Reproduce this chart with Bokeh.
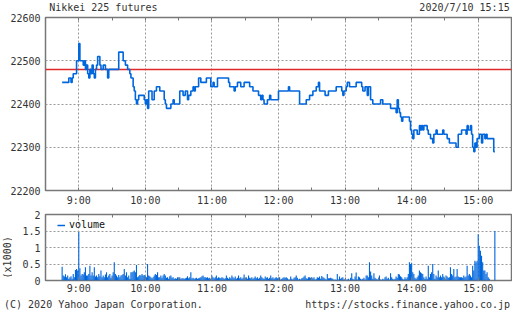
import math
from bokeh.plotting import figure
from bokeh.layouts import column, row
from bokeh.models import (Range1d, FixedTicker, LinearAxis, Grid,
                          Legend, LegendItem, Div)
from bokeh.core.properties import value
from bokeh.embed import file_html
from bokeh.resources import INLINE

# ---------------- data ----------------
# price change points: minutes since midnight -> price (step line)
price_time = [
    525, 531, 533, 534, 535, 538, 540, 541, 544, 545,
    546, 547, 548, 549, 550, 551, 552, 553, 554, 555,
    556, 557, 559, 560, 562, 564, 566, 567, 576, 580,
    582, 584, 586, 587, 589, 590, 591, 592, 593, 594,
    599, 600, 601, 602, 603, 606, 608, 610, 613, 617,
    618, 619, 623, 625, 626, 631, 634, 636, 638, 639,
    641, 643, 644, 645, 648, 650, 655, 659, 661, 662,
    665, 675, 676, 680, 681, 683, 686, 689, 694, 697,
    702, 704, 705, 706, 707, 710, 712, 713, 720, 729,
    730, 739, 745, 748, 751, 754, 756, 757, 762, 765,
    772, 777, 778, 779, 781, 782, 784, 790, 795, 796,
    798, 800, 801, 803, 805, 812, 814, 821, 826, 827,
    828, 829, 830, 831, 832, 838, 839, 840, 841, 842,
    845, 847, 848, 849, 850, 851, 854, 855, 857, 859,
    860, 862, 863, 868, 869, 872, 874, 880, 882, 885,
    889, 890, 891, 893, 894, 895, 896, 897, 898, 899,
    901, 903, 904, 906, 907, 908, 914, 915,
]
price_value = [
    22450, 22460, 22450, 22460, 22470, 22500, 22540, 22500, 22490, 22500,
    22480, 22490, 22470, 22460, 22480, 22470, 22490, 22470, 22460, 22480,
    22490, 22510, 22490, 22480, 22490, 22480, 22460, 22480, 22520, 22500,
    22490, 22480, 22470, 22460, 22440, 22430, 22410, 22400, 22410, 22420,
    22410, 22400, 22410, 22390, 22430, 22410, 22430, 22440, 22430, 22410,
    22400, 22390, 22400, 22410, 22400, 22430, 22420, 22430, 22410, 22420,
    22430, 22440, 22430, 22440, 22460, 22450, 22460, 22440, 22450, 22440,
    22460, 22450, 22440, 22430, 22440, 22450, 22440, 22450, 22440, 22430,
    22420, 22410, 22420, 22410, 22400, 22410, 22420, 22410, 22430, 22440,
    22430, 22400, 22410, 22420, 22430, 22440, 22450, 22430, 22420, 22430,
    22440, 22430, 22420, 22430, 22440, 22450, 22440, 22450, 22440, 22430,
    22440, 22420, 22440, 22410, 22400, 22410, 22400, 22390, 22380, 22410,
    22390, 22380, 22370, 22360, 22370, 22360, 22340, 22330, 22320, 22340,
    22330, 22350, 22340, 22350, 22340, 22350, 22340, 22330, 22320, 22310,
    22330, 22340, 22330, 22340, 22330, 22320, 22310, 22300, 22330, 22340,
    22330, 22350, 22340, 22350, 22330, 22300, 22290, 22310, 22300, 22320,
    22330, 22310, 22330, 22320, 22330, 22320, 22290, 22290,
]
prev_close = 22480

# volume per minute (x1000) starting at 8:45
volume_start = 525
volume = [
    0.42, 0.15, 0.12, 0.19, 0.10, 0.15, 0.05, 0.10, 0.13, 0.05,
    0.20, 0.10, 0.32, 0.35, 0.30, 1.47, 0.37, 0.15, 0.20, 0.18,
    0.25, 0.40, 0.15, 0.15, 0.20, 0.45, 0.15, 0.25, 0.15, 0.40,
    0.12, 0.15, 0.10, 0.20, 0.13, 0.30, 0.10, 0.15, 0.10, 0.18,
    0.25, 0.10, 0.15, 0.20, 0.08, 0.15, 0.25, 0.55, 0.20, 0.15,
    0.10, 0.17, 0.10, 0.15, 0.17, 0.20, 0.35, 0.15, 0.25, 0.10,
    0.15, 0.05, 0.25, 0.25, 0.27, 0.30, 0.25, 0.47, 0.10, 0.13,
    0.17, 0.15, 0.20, 0.15, 0.17, 0.13, 0.10, 0.50, 0.15, 0.13,
    0.10, 0.07, 0.10, 0.15, 0.20, 0.17, 0.25, 0.10, 0.10, 0.15,
    0.08, 0.15, 0.20, 0.15, 0.08, 0.10, 0.05, 0.13, 0.15, 0.08,
    0.10, 0.05, 0.07, 0.05, 0.10, 0.08, 0.10, 0.05, 0.07, 0.07,
    0.05, 0.07, 0.08, 0.13, 0.07, 0.10, 0.25, 0.07, 0.08, 0.05,
    0.07, 0.08, 0.05, 0.07, 0.08, 0.10, 0.13, 0.15, 0.10, 0.10,
    0.08, 0.10, 0.07, 0.08, 0.05, 0.15, 0.10, 0.07, 0.10, 0.15,
    0.07, 0.10, 0.08, 0.07, 0.10, 0.08, 0.05, 0.07, 0.15, 0.08,
    0.05, 0.10, 0.07, 0.15, 0.10, 0.07, 0.12, 0.05, 0.08, 0.15,
    0.07, 0.10, 0.05, 0.08, 0.18, 0.07, 0.10, 0.05, 0.15, 0.08,
    0.07, 0.10, 0.05, 0.08, 0.12, 0.07, 0.10, 0.05, 0.08, 0.15,
    0.10, 0.07, 0.05, 0.12, 0.08, 0.10, 0.05, 0.08, 0.15, 0.07,
    0.10, 0.05, 0.08, 0.10, 0.07, 0.08, 0.10, 0.03, 0.05, 0.08,
    0.10, 0.08, 0.10, 0.07, 0.03, 0.03, 0.12, 0.05, 0.03, 0.08,
    0.10, 0.15, 0.08, 0.03, 0.05, 0.03, 0.07, 0.08, 0.12, 0.15,
    0.07, 0.05, 0.10, 0.10, 0.08, 0.10, 0.07, 0.10, 0.03, 0.05,
    0.10, 0.08, 0.12, 0.05, 0.14, 0.10, 0.08, 0.05, 0.03, 0.20,
    0.07, 0.07, 0.08, 0.07, 0.05, 0.02, 0.03, 0.02, 0.20, 0.03,
    0.12, 0.05, 0.08, 0.10, 0.03, 0.05, 0.02, 0.03, 0.05, 0.02,
    0.08, 0.22, 0.05, 0.03, 0.12, 0.24, 0.03, 0.12, 0.10, 0.05,
    0.03, 0.05, 0.08, 0.03, 0.15, 0.15, 0.10, 0.55, 0.27, 0.15,
    0.05, 0.22, 0.08, 0.05, 0.03, 0.05, 0.15, 0.03, 0.02, 0.05,
    0.03, 0.10, 0.12, 0.05, 0.08, 0.03, 0.22, 0.10, 0.05, 0.03,
    0.05, 0.12, 0.08, 0.20, 0.18, 0.13, 0.10, 0.05, 0.03, 0.10,
    0.05, 0.10, 0.20, 0.55, 0.50, 0.52, 0.25, 0.20, 0.08, 0.05,
    0.10, 0.15, 0.30, 0.25, 0.22, 0.20, 0.10, 0.05, 0.12, 0.05,
    0.45, 0.10, 0.20, 0.25, 0.50, 0.20, 0.05, 0.15, 0.10, 0.30,
    0.10, 0.15, 0.10, 0.20, 0.12, 0.05, 0.15, 0.12, 0.08, 0.10,
    0.40, 0.20, 0.15, 0.35, 0.10, 0.12, 0.35, 0.12, 0.10, 0.10,
    0.10, 0.08, 0.15, 0.10, 0.12, 0.45, 0.15, 0.20, 0.15, 0.10,
    0.45, 0.30, 0.60, 0.55, 0.60, 1.40, 1.05, 0.90, 0.75, 0.55,
    0.30, 0.30, 0.20, 0.25, 0.10, 0.05, 0.00, 0.00, 0.00, 0.00,
    1.50,
]
volume_time = [volume_start + i for i in range(len(volume))]

hour_ticks = [540, 600, 660, 720, 780, 840, 900]
hour_labels = ["9:00", "10:00", "11:00", "12:00", "13:00", "14:00", "15:00"]
half_hour_ticks = [570, 630, 690, 750, 810, 870]
price_ticks = [22200, 22300, 22400, 22500, 22600]
volume_ticks = [0, 0.5, 1, 1.5, 2]
volume_tick_labels = ["0", "0.5", "1", "1.5", "2"]

title_left = "Nikkei 225 futures"
title_right = "2020/7/10 15:15"
footer_left = "(C) 2020 Yahoo Japan Corporation."
footer_right = "https://stocks.finance.yahoo.co.jp"
volume_unit = "(x1000)"

# ---------------- style ----------------
FONT = "DejaVu Sans Mono"
FS = "10px"
TXT = "#333333"
BORDER = "#777777"
GRIDC = "#999999"
BLUE = "#0066dd"
RED = "#e02a2a"
W = 512


def text_strip(width, height, top=0, bottom=0):
    """A plain strip (no axes, no frame) used to hold captions."""
    s = figure(width=width, height=height, x_range=Range1d(0, width),
               y_range=Range1d(0, height - top - bottom), output_backend="svg",
               toolbar_location=None, x_axis_type=None, y_axis_type=None,
               min_border_left=0, min_border_right=0,
               min_border_top=top, min_border_bottom=bottom)
    s.outline_line_color = None
    s.grid.visible = False
    return s


def put_text(s, x, y, txt, align, angle=0.0):
    s.text(x=[x], y=[y], text=[txt], angle=angle,
           text_font=value(FONT), text_font_size=value(FS),
           text_color=TXT, text_align=value(align),
           text_baseline=value("middle"))


def base_fig(width, height, y0, y1, left, top, bottom):
    p = figure(width=width, height=height, x_range=Range1d(510, 930),
               y_range=Range1d(y0, y1), output_backend="svg",
               toolbar_location=None, x_axis_type=None, y_axis_type=None,
               min_border_left=left, min_border_right=1,
               min_border_top=top, min_border_bottom=bottom)
    p.outline_line_color = BORDER
    p.outline_line_width = 1.5
    p.background_fill_color = "white"
    p.border_fill_color = "white"
    return p


def x_axes(p, standoff):
    for loc in ("below", "above"):
        ax = LinearAxis(ticker=FixedTicker(ticks=hour_ticks, minor_ticks=half_hour_ticks))
        ax.axis_line_color = None
        ax.major_tick_in = 3
        ax.major_tick_out = 0
        ax.minor_tick_in = 3
        ax.minor_tick_out = 0
        ax.major_tick_line_color = BORDER
        ax.minor_tick_line_color = BORDER
        if loc == "below":
            ax.major_label_overrides = {t: l for t, l in zip(hour_ticks, hour_labels)}
            ax.major_label_text_font = FONT
            ax.major_label_text_font_size = FS
            ax.major_label_text_color = TXT
            ax.major_label_standoff = standoff
        else:
            ax.major_label_overrides = {t: "" for t in hour_ticks}
            ax.major_label_text_font_size = "0px"
            ax.major_label_standoff = 0
        p.add_layout(ax, loc)
    g = Grid(dimension=0, ticker=FixedTicker(ticks=hour_ticks))
    g.grid_line_color = GRIDC
    g.grid_line_dash = "2 2"
    p.add_layout(g)


def y_axis(p, ticks, labels=None):
    ax = LinearAxis(ticker=FixedTicker(ticks=ticks))
    ax.axis_line_color = None
    ax.major_tick_in = 0
    ax.major_tick_out = 0
    ax.minor_tick_line_color = None
    ax.major_label_text_font = FONT
    ax.major_label_text_font_size = FS
    ax.major_label_text_color = TXT
    ax.major_label_standoff = 5
    if labels is not None:
        ax.major_label_overrides = {t: l for t, l in zip(ticks, labels)}
    p.add_layout(ax, "left")
    g = Grid(dimension=1, ticker=FixedTicker(ticks=ticks[1:-1]))
    g.grid_line_color = GRIDC
    g.grid_line_dash = "2 2"
    p.add_layout(g)


# ---------------- header ----------------
HH = 13
header = text_strip(W, HH)
put_text(header, 4, HH - 6.5, title_left, "left")
put_text(header, 510, HH - 6.5, title_right, "right")

# ---------------- price chart ----------------
H1 = 195
p1 = base_fig(W, H1, price_ticks[0], price_ticks[-1], 45, 4, H1 - 4 - 174)
x_axes(p1, 4)
y_axis(p1, price_ticks)
p1.hspan(y=[prev_close], line_color=RED, line_width=1.6)
p1.step(price_time, price_value, mode="after", line_color=BLUE, line_width=1.6)

# ---------------- volume chart ----------------
H2 = 88
V_TOP, V_FRAME = 6, 67
V_BOT = H2 - V_TOP - V_FRAME
LW = 12
unit_strip = text_strip(LW, H2, V_TOP, V_BOT)
put_text(unit_strip, 6.5, 23.5, volume_unit, "center", angle=math.pi / 2)

p2 = base_fig(W - LW, H2, volume_ticks[0], volume_ticks[-1], 45 - LW, V_TOP, V_BOT)
x_axes(p2, 2)
y_axis(p2, volume_ticks, volume_tick_labels)
p2.vbar(x=volume_time, top=volume, width=1.0, fill_color=BLUE, line_color=None)
legend_line = p2.line([520, 521], [-1, -1], line_color=BLUE, line_width=1.5)
leg = Legend(items=[LegendItem(label="volume", renderers=[legend_line])],
             location=(12, 50), orientation="vertical")
leg.padding = 0
leg.margin = 0
leg.spacing = 0
leg.glyph_width = 8
leg.glyph_height = 10
leg.label_height = 10
leg.label_standoff = 4
leg.label_text_font = FONT
leg.label_text_font_size = FS
leg.label_text_color = "#111111"
leg.border_line_color = None
leg.background_fill_alpha = 0
p2.add_layout(leg)

# ---------------- footer ----------------
HF = 310 - HH - H1 - H2
footer = Div(
    text=(f'<div style="display:flex;justify-content:space-between;'
          f'width:{W}px;box-sizing:border-box;'
          f"font-family:'{FONT}',monospace;font-size:{FS};color:{TXT};"
          f'line-height:{HF - 2}px;padding:0 2px 0 4px;margin:0;white-space:pre">'
          f"<span>{footer_left}</span><span>{footer_right}</span></div>"),
    width=W, height=HF, styles={"margin": "0", "padding": "0", "width": f"{W}px"})

layout = column(header, p1, row(unit_strip, p2, spacing=0), footer, spacing=0)
open("out.html", "w").write(file_html(layout, INLINE))
